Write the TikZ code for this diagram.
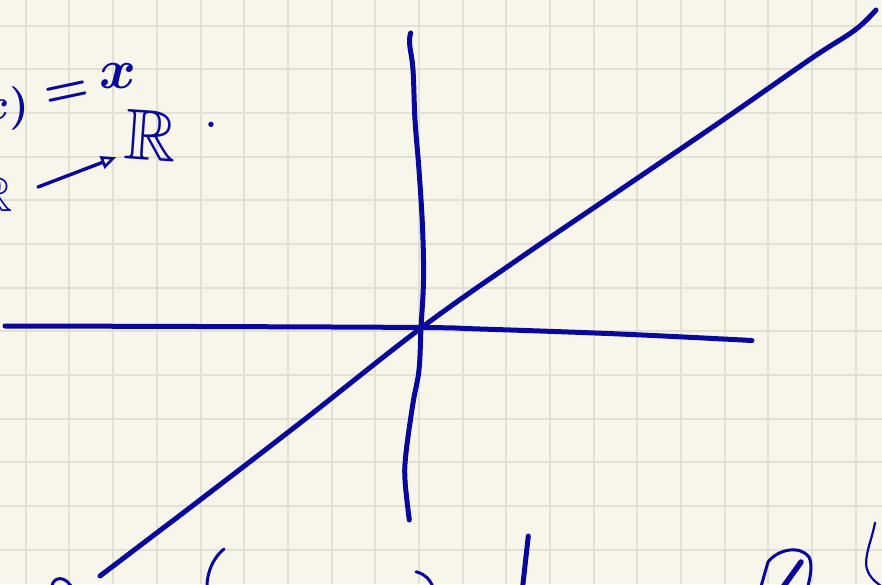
\documentclass[tikz,border=0pt]{standalone}
\usepackage{amssymb}
\usetikzlibrary{arrows.meta}
\definecolor{paper}{RGB}{248,246,234}
\definecolor{gridc}{RGB}{226,224,211}
\definecolor{ink}{RGB}{8,8,158}
\tikzset{
  pen/.style={draw=ink, line cap=round, line join=round},
  axis/.style={pen, line width=5pt},
  thinpen/.style={pen, line width=3pt},
  hand/.style={text=ink, inner sep=0pt, outer sep=0pt, font=\boldmath},
  gridline/.style={draw=gridc, line width=2pt}
}
\begin{document}
\begin{tikzpicture}[x=1pt,y=-1pt]
\useasboundingbox (0,0) rectangle (882,584);
\clip (0,0) rectangle (882,584);
\fill[paper] (0,0) rectangle (882,584);
% grid
\foreach \k in {0,...,19} \draw[gridline] ({25.8+43.68*\k},0) -- ({25.8+43.68*\k},584);
\foreach \k in {0,...,12} \draw[gridline] (0,{25.6+43.68*\k}) -- (882,{25.6+43.68*\k});
% axes
\draw[axis] plot[smooth, tension=0.6] coordinates {(410.7,33) (409.5,43) (413,70) (415,120) (419,170) (422.5,227) (423.5,280) (421,328) (419,370) (413,403) (406,453) (405,480) (409.3,520)};
\draw[axis] plot[smooth, tension=0.6] coordinates {(5,326) (200,326.5) (420,327.5) (480,329) (620,334) (752,340.5)};
\draw[axis] plot[smooth, tension=0.6] coordinates {(100,576) (150,538) (200,500) (300,423) (421,328) (520,258) (620,190) (720,122) (812,58) (855,30) (876,10)};
% handwriting, top left
\node[hand, scale=4.4, anchor=east] (fx) at (29,108) {$f(x)$};
\node[hand, scale=5, rotate=12] (eq) at (67,94) {$=$};
\node[hand, scale=5.6] (xx) at (118,76) {$x$};
\node[hand, scale=5, anchor=east] (R1) at (13,194) {$\mathbb{R}$};
\node[hand, scale=7.2, rotate=-4] (R2) at (151,136) {$\mathbb{R}$};
\node[hand, scale=5] (dot) at (211.5,125) {.};
\draw[thinpen, line width=3.4pt, -{Triangle[open, length=15pt, width=13pt, line width=2.6pt]}]
  ([shift={(25,-7)}]R1.east) -- ([shift={(-9,23)}]R2.west);
% next line of handwriting, cut at the bottom edge
\draw[thinpen] (52,586) .. controls (53,577) and (66,574) .. (73,590);
\draw[thinpen] (224,549) .. controls (216,555) and (206,570) .. (207,590);
\draw[thinpen] (416,571.7) .. controls (425,574) and (431,580) .. (434,590);
\draw[axis] (528.3,536) -- (522.3,590);
\draw[thinpen] (760,590) -- (768,562) .. controls (778,549) and (800,545) .. (809,557) .. controls (813,566) and (810,578) .. (807,590);
\draw[pen, line width=5.5pt] (801,562) -- (781,590);
\draw[pen, line width=2.2pt] (875,522.7) .. controls (872,540) and (862,560) .. (868,572) .. controls (872,580) and (878,584) .. (884,588);
\end{tikzpicture}
\end{document}
